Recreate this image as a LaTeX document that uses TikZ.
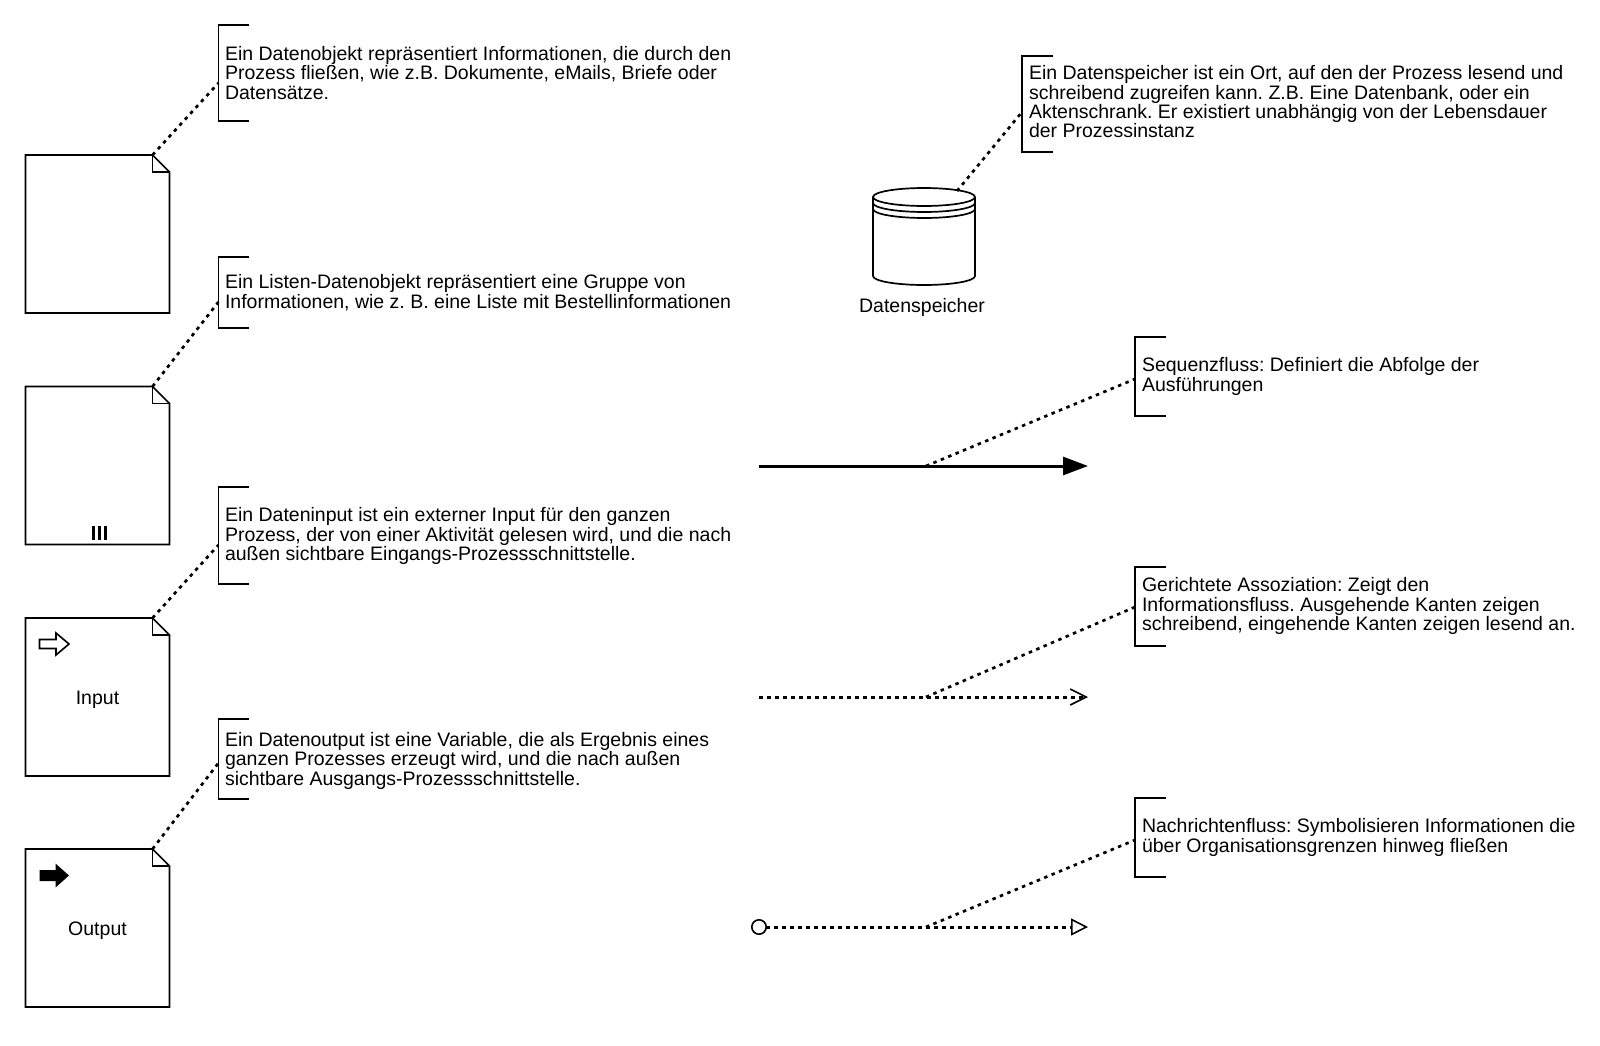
\documentclass[tikz,border=0pt]{standalone}
\usepackage{fontspec}
\setmainfont{Liberation Sans}
\usetikzlibrary{arrows.meta,calc}
\frenchspacing
\begin{document}
\begin{tikzpicture}[x=1pt,y=-1pt,
  every node/.style={inner sep=0pt, outer sep=0pt},
  % multi-line notes are anchored at the baseline of their last line
  note/.style={anchor=base west, align=left, font=\fontsize{19.5}{19.5}\selectfont},
  lbl/.style={font=\fontsize{19.5}{19.5}\selectfont},
  docbox/.style={minimum width=144pt, minimum height=158pt},
  docline/.style={line width=1.7pt, line join=miter},
  brkline/.style={line width=1.8pt},
  dotline/.style={line width=3pt, dash pattern=on 3.5pt off 4.5pt},
  linkline/.style={line width=2.7pt, dash pattern=on 3.5pt off 4.5pt},
]
\fill[white] (0,0) rectangle (1600,1046);
\useasboundingbox (0,0) rectangle (1600,1046);

% ---------- data objects ----------
\node[docbox] (d1) at (97.5,234) {};
\node[docbox] (d2) at (97.5,465.5) {};
\node[docbox] (d3) at (97.5,697) {};
\node[docbox] (d4) at (97.5,928) {};
\node[lbl] (l3) at ($(d3.center)+(0,3)$) {Input};
\node[lbl] (l4) at ($(d4.center)+(0,3)$) {Output};

\foreach \d in {d1,d2,d3,d4}{
  \draw[docline] (\d.north west) -- ($(\d.north east)+(-17,0)$)
     -- ($(\d.north east)+(0,17)$) -- (\d.south east) -- (\d.south west) -- cycle;
  \draw[docline] ($(\d.north east)+(-17,0)$) -- ($(\d.north east)+(-17,17)$)
     -- ($(\d.north east)+(0,17)$);
  \coordinate (\d fold) at ($(\d.north east)+(-17,0)$);
}

% collection marker
\foreach \xx in {93.5,99.5,105.5}
  \draw[line width=3.2pt] (\xx,526) -- (\xx,540);

% input marker (hollow arrow)
\coordinate (inA) at (39.5,644);
\draw[line width=1.6pt, line join=miter] (inA) ++(0,-4.5) -- ++(16.5,0) -- ++(0,-6.5)
  -- ++(13,11) -- ++(-13,11) -- ++(0,-6.5) -- ++(-16.5,0) -- cycle;
% output marker (filled arrow)
\coordinate (outA) at (39.5,875.5);
\fill (outA) ++(0,-5.5) -- ++(16,0) -- ++(0,-6.5)
  -- ++(13.5,12) -- ++(-13.5,12) -- ++(0,-6.5) -- ++(-16,0) -- cycle;

% ---------- data store ----------
\draw[docline] (873,197) -- (873,276)
   arc[start angle=180, end angle=0, x radius=51, y radius=9] -- (975,197);
\draw[docline] (924,197) ellipse[x radius=51, y radius=9];
\draw[docline] (873,203) arc[start angle=180, end angle=0, x radius=51, y radius=9];
\draw[docline] (873,209) arc[start angle=180, end angle=0, x radius=51, y radius=9];
\coordinate (dstop) at (957,191);
\node[lbl, anchor=base] (dsl) at (922,312) {Datenspeicher};

% ---------- flows ----------
\coordinate (sqA) at (759,466);
\coordinate (sqB) at (1088,466);
\draw[line width=3pt, -{Triangle[length=25pt,width=18pt]}] (sqA) -- (sqB);
\coordinate (sqM) at (926,466);

\coordinate (asA) at (759,697);
\coordinate (asB) at (1088,697);
\draw[dotline, -{Straight Barb[length=16pt,width=16pt,line width=1.6pt]}] (asA) -- (asB);
\coordinate (asM) at (926,697);

\coordinate (msA) at (751,927);
\coordinate (msB) at (1088,927);
\draw[dotline, {Circle[open,length=16pt,width=16pt,line width=1.6pt]}-{Triangle[open,length=17pt,width=17pt,line width=1.6pt]}] (msA) -- (msB);
\coordinate (msM) at (926,927);

% ---------- annotation brackets ----------
\newcommand\bracketat[3]{% x, top, bottom
  \draw[brkline] (#1+31,#2) -- (#1,#2) -- (#1,#3) -- (#1+31,#3);
}
\bracketat{218.4}{25}{121}
\bracketat{218.4}{257}{328}
\bracketat{218.4}{487}{584}
\bracketat{218.4}{719}{799}
\bracketat{1022}{56}{152}
\bracketat{1135}{337}{416}
\bracketat{1135}{567}{646}
\bracketat{1135}{798}{877}

\coordinate (c1) at (218.4,83);
\coordinate (c2) at (218.4,302);
\coordinate (c3) at (218.4,545);
\coordinate (c4) at (218.4,763);
\coordinate (c5) at (1022,112);
\coordinate (c6) at (1135,379);
\coordinate (c7) at (1135,607);
\coordinate (c8) at (1135,840);

\node[note] (t1) at (225,99.2) {Ein Datenobjekt repräsentiert Informationen, die durch den\\Prozess fließen, wie z.B. Dokumente, eMails, Briefe oder\\Datensätze.};
\node[note] (t2) at (225,308.2) {Ein Listen-Datenobjekt repräsentiert eine Gruppe von\\Informationen, wie z. B. eine Liste mit Bestellinformationen};
\node[note] (t3) at (225,560.8) {Ein Dateninput ist ein externer Input für den ganzen\\Prozess, der von einer Aktivität gelesen wird, und die nach\\außen sichtbare Eingangs-Prozessschnittstelle.};
\node[note] (t4) at (225,785.3) {Ein Datenoutput ist eine Variable, die als Ergebnis eines\\ganzen Prozesses erzeugt wird, und die nach außen\\sichtbare Ausgangs-Prozessschnittstelle.};
\node[note] (t5) at (1029,138) {Ein Datenspeicher ist ein Ort, auf den der Prozess lesend und\\schreibend zugreifen kann. Z.B. Eine Datenbank, oder ein\\Aktenschrank. Er existiert unabhängig von der Lebensdauer\\der Prozessinstanz};
\node[note] (t6) at (1142,391) {Sequenzfluss: Definiert die Abfolge der\\Ausführungen};
\node[note] (t7) at (1142,630.8) {Gerichtete Assoziation: Zeigt den\\Informationsfluss. Ausgehende Kanten zeigen\\schreibend, eingehende Kanten zeigen lesend an.};
\node[note] (t8) at (1142,852.4) {Nachrichtenfluss: Symbolisieren Informationen die\\über Organisationsgrenzen hinweg fließen};

% ---------- association links ----------
\draw[linkline] (d1fold) -- (c1);
\draw[linkline] (d2fold) -- (c2);
\draw[linkline] (d3fold) -- (c3);
\draw[linkline] (d4fold) -- (c4);
\draw[linkline] (dstop) -- (c5);
\draw[linkline] (sqM) -- (c6);
\draw[linkline] (asM) -- (c7);
\draw[linkline] (msM) -- (c8);
\end{tikzpicture}
\end{document}
